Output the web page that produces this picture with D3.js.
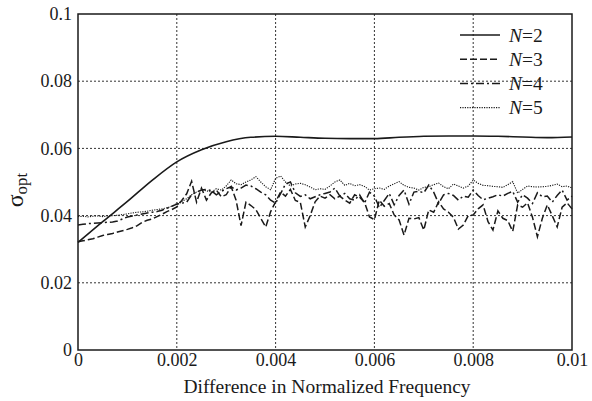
<!DOCTYPE html>
<html>
<head>
<meta charset="UTF-8">
<script src="https://d3js.org/d3.v7.min.js"></script>
<style>
  body { margin: 0; background: #fff; }
  text { font-family: "Liberation Serif", "Times New Roman", Times, "DejaVu Serif", serif; fill: #1a1a1a; }
  .grid line { stroke: #333; stroke-width: 1; stroke-dasharray: 2,2; }
</style>
</head>
<body>
<svg width="592" height="401"></svg>
<script>
// x tick values and y tick values
const xTicks = [0, 0.002, 0.004, 0.006, 0.008, 0.01];
const yTicks = [0, 0.02, 0.04, 0.06, 0.08, 0.1];

// N=2 is smooth, sampled every 0.0005
const x2 = d3.range(21).map(i => i * 0.0005);
const n2 = [0.0320, 0.0382, 0.0442, 0.0505, 0.0560, 0.0596, 0.0620, 0.0633, 0.0636, 0.0633,
            0.0630, 0.0629, 0.0629, 0.0633, 0.0636, 0.0637, 0.0637, 0.0636, 0.0634, 0.0632, 0.0634];

// N=3..5 sampled every 0.0001
const xs = d3.range(101).map(i => i * 0.0001);
const n3 = [0.0322, 0.0325, 0.0328, 0.0331, 0.0336, 0.0341, 0.0344, 0.0347, 0.0351, 0.0355,
            0.0359, 0.0364, 0.0370, 0.0380, 0.0386, 0.0390, 0.0397, 0.0404, 0.0412, 0.0418,
            0.0426, 0.0445, 0.0465, 0.0502, 0.0440, 0.0482, 0.0446, 0.0468, 0.0476, 0.0456,
            0.0462, 0.0486, 0.0446, 0.0370, 0.0440, 0.0430, 0.0418, 0.0392, 0.0366, 0.0412,
            0.0441, 0.0470, 0.0458, 0.0478, 0.0445, 0.0440, 0.0366, 0.0400, 0.0441, 0.0458,
            0.0452, 0.0462, 0.0450, 0.0458, 0.0446, 0.0437, 0.0462, 0.0455, 0.0440, 0.0396,
            0.0388, 0.0446, 0.0428, 0.0436, 0.0402, 0.0387, 0.0342, 0.0392, 0.0390, 0.0394,
            0.0357, 0.0417, 0.0410, 0.0441, 0.0420, 0.0410, 0.0395, 0.0360, 0.0372, 0.0400,
            0.0402, 0.0420, 0.0432, 0.0382, 0.0357, 0.0414, 0.0392, 0.0385, 0.0353, 0.0432,
            0.0425, 0.0438, 0.0395, 0.0337, 0.0392, 0.0432, 0.0400, 0.0366, 0.0425, 0.0438,
            0.0420];
const n4 = [0.0372, 0.0374, 0.0376, 0.0377, 0.0378, 0.0379, 0.0380, 0.0381, 0.0384, 0.0390,
            0.0396, 0.0399, 0.0402, 0.0405, 0.0408, 0.0410, 0.0412, 0.0416, 0.0422, 0.0428,
            0.0434, 0.0437, 0.0440, 0.0462, 0.0470, 0.0476, 0.0478, 0.0474, 0.0462, 0.0472,
            0.0480, 0.0486, 0.0476, 0.0482, 0.0491, 0.0488, 0.0480, 0.0470, 0.0462, 0.0446,
            0.0437, 0.0465, 0.0494, 0.0500, 0.0468, 0.0457, 0.0462, 0.0450, 0.0456, 0.0462,
            0.0466, 0.0470, 0.0482, 0.0458, 0.0466, 0.0450, 0.0446, 0.0462, 0.0437, 0.0470,
            0.0458, 0.0424, 0.0445, 0.0466, 0.0432, 0.0460, 0.0476, 0.0434, 0.0470, 0.0472,
            0.0468, 0.0491, 0.0470, 0.0436, 0.0462, 0.0466, 0.0460, 0.0446, 0.0458, 0.0455,
            0.0476, 0.0460, 0.0447, 0.0452, 0.0456, 0.0462, 0.0458, 0.0466, 0.0472, 0.0440,
            0.0462, 0.0452, 0.0436, 0.0468, 0.0456, 0.0458, 0.0440, 0.0460, 0.0476, 0.0446,
            0.0458];
const n5 = [0.0397, 0.0398, 0.0396, 0.0398, 0.0399, 0.0397, 0.0399, 0.0400, 0.0401, 0.0403,
            0.0405, 0.0408, 0.0410, 0.0411, 0.0413, 0.0416, 0.0418, 0.0420, 0.0423, 0.0428,
            0.0436, 0.0442, 0.0450, 0.0462, 0.0470, 0.0476, 0.0474, 0.0470, 0.0480, 0.0476,
            0.0488, 0.0506, 0.0495, 0.0492, 0.0500, 0.0506, 0.0516, 0.0500, 0.0486, 0.0477,
            0.0511, 0.0518, 0.0500, 0.0488, 0.0494, 0.0496, 0.0492, 0.0485, 0.0477, 0.0480,
            0.0478, 0.0488, 0.0500, 0.0506, 0.0490, 0.0496, 0.0489, 0.0492, 0.0487, 0.0476,
            0.0480, 0.0482, 0.0478, 0.0488, 0.0495, 0.0501, 0.0490, 0.0484, 0.0482, 0.0476,
            0.0484, 0.0486, 0.0492, 0.0497, 0.0486, 0.0480, 0.0494, 0.0488, 0.0482, 0.0488,
            0.0506, 0.0496, 0.0490, 0.0489, 0.0487, 0.0486, 0.0484, 0.0492, 0.0501, 0.0467,
            0.0478, 0.0488, 0.0486, 0.0485, 0.0486, 0.0487, 0.0490, 0.0494, 0.0486, 0.0488,
            0.0482];

const series = [
  { label: "2", xv: x2, yv: n2, dash: null, width: 1.6, curve: d3.curveMonotoneX },
  { label: "3", xv: xs, yv: n3, dash: "7,3", width: 1.5, curve: d3.curveLinear },
  { label: "4", xv: xs, yv: n4, dash: "8,3,2,3", width: 1.5, curve: d3.curveLinear },
  { label: "5", xv: xs, yv: n5, dash: "1.2,1.2", width: 1.1, curve: d3.curveLinear }
];

const svg = d3.select("svg");
const mLeft = 78, mRight = 572, mTop = 14, mBottom = 350;

const x = d3.scaleLinear().domain([0, 0.01]).range([mLeft, mRight]);
const y = d3.scaleLinear().domain([0, 0.1]).range([mBottom, mTop]);

// grid
const grid = svg.append("g").attr("class", "grid");
grid.selectAll(".gx").data(xTicks.slice(1, -1)).enter().append("line")
  .attr("x1", d => x(d)).attr("x2", d => x(d))
  .attr("y1", mTop).attr("y2", mBottom);
grid.selectAll(".gy").data(yTicks.slice(1, -1)).enter().append("line")
  .attr("x1", mLeft).attr("x2", mRight)
  .attr("y1", d => y(d)).attr("y2", d => y(d));

// lines
const plot = svg.append("g");
series.forEach(s => {
  const line = d3.line()
    .x((d, i) => x(s.xv[i]))
    .y(d => y(d))
    .curve(s.curve);
  plot.append("path")
    .datum(s.yv)
    .attr("d", line)
    .attr("fill", "none")
    .attr("stroke", "#1a1a1a")
    .attr("stroke-width", s.width)
    .attr("stroke-dasharray", s.dash);
});

// frame
svg.append("rect")
  .attr("x", mLeft).attr("y", mTop)
  .attr("width", mRight - mLeft).attr("height", mBottom - mTop)
  .attr("fill", "none").attr("stroke", "#1a1a1a").attr("stroke-width", 1.5);

// axes (labels only, grid does the ticks)
const xAxis = svg.append("g").attr("transform", `translate(0,${mBottom})`)
  .call(d3.axisBottom(x).tickValues(xTicks).tickSize(0).tickPadding(3).tickFormat(d => String(+d.toFixed(3))));
const yAxis = svg.append("g").attr("transform", `translate(${mLeft},0)`)
  .call(d3.axisLeft(y).tickValues(yTicks).tickSize(0).tickPadding(6).tickFormat(d => String(+d.toFixed(2))));
[xAxis, yAxis].forEach(a => {
  a.select(".domain").remove();
  a.attr("font-family", null);
  a.selectAll("text").attr("font-size", 18).attr("fill", "#1a1a1a");
});

svg.append("text")
  .attr("x", (mLeft + mRight) / 2 + 2).attr("y", 393)
  .attr("text-anchor", "middle").attr("font-size", 19.5)
  .text("Difference in Normalized Frequency");

const yl = svg.append("text")
  .attr("transform", "translate(23,190) rotate(-90)")
  .attr("text-anchor", "middle").attr("font-size", 24);
yl.append("tspan").text("σ");
yl.append("tspan").attr("font-size", 17).attr("dy", 4).text("opt");

// legend
const legend = svg.append("g");
series.forEach((s, i) => {
  const ly = 35 + i * 24.2;
  legend.append("line")
    .attr("x1", 460).attr("x2", 500).attr("y1", ly).attr("y2", ly)
    .attr("stroke", "#1a1a1a").attr("stroke-width", s.width)
    .attr("stroke-dasharray", s.dash);
  const t = legend.append("text").attr("x", 509).attr("y", ly + 6.5).attr("font-size", 19.5);
  t.append("tspan").attr("font-style", "italic").text("N");
  t.append("tspan").text("=" + s.label);
});
</script>
</body>
</html>
